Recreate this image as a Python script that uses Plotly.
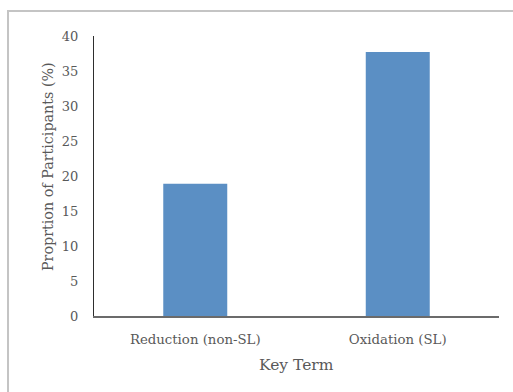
import plotly.graph_objects as go

# Share of participants using each key term
categories = ["Reduction (non-SL)", "Oxidation (SL)"]
values = [18.9, 37.7]
y_ticks = [0, 5, 10, 15, 20, 25, 30, 35, 40]

serif = "DejaVu Serif"
text_grey = "#595959"

fig = go.Figure(
    go.Bar(
        x=categories,
        y=values,
        marker=dict(color="#5b8fc4", line=dict(color="#5b8fc4", width=0)),
        width=0.316,
    )
)

fig.update_layout(
    width=513,
    height=392,
    margin=dict(l=94, r=14, t=36, b=76),
    paper_bgcolor="white",
    plot_bgcolor="white",
    showlegend=False,
    font=dict(family=serif, color=text_grey, size=12),
    xaxis=dict(
        showline=True,
        linecolor="#6b6b6b",
        linewidth=1.5,
        showgrid=False,
        ticks="",
        ticklabelstandoff=10,
        tickfont=dict(family=serif, size=13.3, color=text_grey),
        fixedrange=True,
    ),
    yaxis=dict(
        range=[0, 40],
        tickvals=y_ticks,
        showline=True,
        linecolor="#2e2e2e",
        linewidth=1.2,
        showgrid=False,
        zeroline=False,
        ticks="",
        ticklabelstandoff=12,
        tickfont=dict(family=serif, size=13, color=text_grey),
        fixedrange=True,
    ),
    annotations=[
        dict(
            text="Key Term",
            xref="paper", yref="paper",
            x=0.5, y=-0.175,
            xanchor="center", yanchor="middle",
            showarrow=False,
            font=dict(family=serif, size=15.5, color=text_grey),
        ),
        dict(
            text="Proprtion of Participants (%)",
            xref="paper", yref="paper",
            x=-0.1136, y=0.5357,
            xanchor="center", yanchor="middle",
            textangle=-90,
            showarrow=False,
            font=dict(family=serif, size=14.3, color=text_grey),
        ),
    ],
    shapes=[
        # outer chart frame
        dict(
            type="rect",
            xref="paper",
            yref="paper",
            x0=-0.2123,
            x1=1.1,
            y0=-0.3,
            y1=1.0893,
            line=dict(color="#c4c4c4", width=2),
            fillcolor="rgba(0,0,0,0)",
            layer="below",
        )
    ],
)

fig.write_html("out.html")
